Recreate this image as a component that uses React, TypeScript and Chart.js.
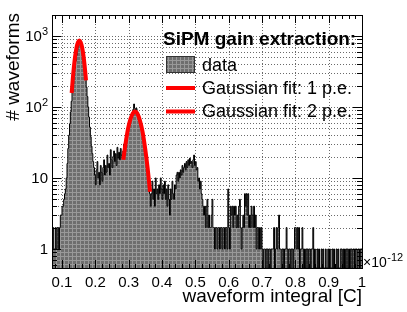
import React, { useEffect, useRef } from "react";
import { Chart, registerables } from "chart.js";

Chart.register(...registerables);

// ---------------- data ----------------
const BIN_START = 0.07; // ×10^-12 C
const BIN_WIDTH = 0.0025;
const COUNTS = [
  // 0.070 - 0.0975
  2, 2, 1, 1, 2, 1, 2, 2, 1, 2, 3, 3,
  // 0.100
  4, 4, 5, 6, 7, 10, 16, 26, 40, 58, 85, 120, 160, 210, 280, 350, 440, 530, 640, 720,
  // 0.150
  800, 850, 830, 780, 690, 600, 470, 370, 260, 190, 140, 100, 72, 52, 38, 28, 22, 17, 14, 11,
  // 0.200
  8, 13, 17, 10, 12, 8, 15, 12, 9, 14, 18, 11, 15, 12, 21, 14, 16, 11, 25, 18,
  // 0.250
  14, 20, 24, 17, 22, 15, 27, 19, 23, 18, 26, 21, 19, 24, 30, 27, 36, 40, 46, 52,
  // 0.300
  58, 64, 70, 75, 84, 92, 110, 96, 88, 95, 86, 80, 72, 66, 55, 48, 42, 35, 30, 24,
  // 0.350
  20, 16, 13, 10, 8, 6, 4, 6, 9, 5, 7, 4, 10, 6, 7, 5, 8, 6, 10, 7,
  // 0.400
  5, 8, 6, 9, 5, 7, 4, 8, 5, 3, 7, 5, 9, 6, 5, 8, 7, 11, 12, 9,
  // 0.450
  12, 10, 13, 11, 15, 12, 14, 16, 13, 17, 14, 18, 15, 19, 16, 17, 14, 18, 21, 15,
  // 0.500
  17, 13, 14, 9, 10, 7, 9, 6, 5, 4, 3, 4, 2, 4, 5, 2, 3, 2, 2, 3,
  // 0.550
  5, 2, 2, 1, 2, 2, 1, 2, 2, 1, 2, 2, 1, 2, 2, 1, 2, 2, 1, 7,
  // 0.600
  2, 1, 4, 3, 4, 2, 4, 3, 4, 2, 3, 2, 4, 5, 2, 1, 2, 3, 2, 6,
  // 0.650
  4, 6, 3, 6, 2, 3, 2, 4, 3, 2, 4, 2, 3, 1, 2, 2, 1, 2, 1, 2,
  // 0.700
  1, 0, 1, 1, 0, 1, 1, 0, 1, 1, 0, 1, 1, 1, 2, 0, 1, 2, 1, 2,
  // 0.750
  3, 1, 1, 0, 1, 1, 0, 1, 1, 2, 1, 0, 1, 1, 0, 1, 1, 0, 1, 2,
  // 0.800
  2, 1, 2, 1, 2, 0, 1, 1, 2, 1, 0, 1, 0, 1, 1, 0, 1, 1, 0, 1,
  // 0.850
  1, 2, 0, 1, 0, 0, 1, 0, 1, 0, 0, 1, 0, 1, 0, 0, 1, 0, 0, 1,
  // 0.900
  0, 1, 0, 0, 1, 0, 1, 0, 0, 1, 0, 1, 0, 0, 1, 1, 0, 1, 0, 1,
  // 0.950
  0, 1, 1, 0, 1, 0, 1, 1, 0, 1, 1, 0, 1, 1, 0, 1, 1, 0, 1, 1,
];

const FIT1_X = [0.129, 0.134, 0.139, 0.144, 0.148, 0.152, 0.156, 0.160, 0.164, 0.168, 0.172];
const FIT1_Y = [157, 303, 499, 699, 816, 859, 816, 699, 541, 377, 237];
const FIT2_X = [0.284, 0.290, 0.298, 0.306, 0.313, 0.319, 0.326, 0.334, 0.342, 0.350, 0.357, 0.364];
const FIT2_Y = [18, 29, 49, 69, 82, 86, 81, 64, 44, 25, 13.6, 6.4];

const X_MIN = 0.07;
const X_MAX = 1.0;
const Y_MIN = 0.54;
const Y_MAX = 1970;

const X_MAJOR = [0.1, 0.2, 0.3, 0.4, 0.5, 0.6, 0.7, 0.8, 0.9, 1.0];
const X_LABELS = ["0.1", "0.2", "0.3", "0.4", "0.5", "0.6", "0.7", "0.8", "0.9", "1"];
const X_MINOR = [
  0.08, 0.12, 0.14, 0.16, 0.18, 0.22, 0.24, 0.26, 0.28, 0.32, 0.34, 0.36, 0.38,
  0.42, 0.44, 0.46, 0.48, 0.52, 0.54, 0.56, 0.58, 0.62, 0.64, 0.66, 0.68,
  0.72, 0.74, 0.76, 0.78, 0.82, 0.84, 0.86, 0.88, 0.92, 0.94, 0.96, 0.98,
];
const Y_MAJOR = [1, 10, 100, 1000];
const Y_LABEL_BASE = ["1", "10", "10", "10"];
const Y_LABEL_EXP = ["", "", "2", "3"];
const Y_MINOR = [
  0.6, 0.7, 0.8, 0.9,
  2, 3, 4, 5, 6, 7, 8, 9,
  20, 30, 40, 50, 60, 70, 80, 90,
  200, 300, 400, 500, 600, 700, 800, 900,
];
const Y_GRID = [
  1, 2, 3, 4, 5, 6, 7, 8, 9,
  10, 20, 30, 40, 50, 60, 70, 80, 90,
  100, 200, 300, 400, 500, 600, 700, 800, 900, 1000,
];

const X_TITLE = "waveform integral [C]";
const Y_TITLE = "# waveforms";
const X_EXP_BASE = "\u00d710";
const X_EXP = "-12";
const LEGEND_TITLE = "SiPM gain extraction:";
const LEGEND_LABELS = ["data", "Gaussian fit: 1 p.e.", "Gaussian fit: 2 p.e."];

const FONT = '"Liberation Sans", Arial, Helvetica, sans-serif';

function makePattern(ctx: CanvasRenderingContext2D): CanvasPattern | string {
  const c = document.createElement("canvas");
  c.width = 4;
  c.height = 4;
  const g = c.getContext("2d");
  if (!g) return "#808080";
  g.fillStyle = "#6e6e6e";
  g.fillRect(0, 0, 4, 4);
  g.fillStyle = "#999999";
  g.fillRect(0, 0, 4, 1);
  g.fillRect(0, 0, 1, 4);
  return ctx.createPattern(c, "repeat") || "#808080";
}

export default function App() {
  const ref = useRef<HTMLCanvasElement>(null);

  useEffect(() => {
    const canvas = ref.current;
    if (!canvas) return;
    const mainCtx = canvas.getContext("2d")!;
    const pattern = makePattern(mainCtx);

    const histData = COUNTS.map((c, i) => ({
      x: BIN_START + i * BIN_WIDTH,
      y: c > 0 ? c : Y_MIN,
    }));
    const last = COUNTS[COUNTS.length - 1];
    histData.push({ x: BIN_START + COUNTS.length * BIN_WIDTH, y: last > 0 ? last : Y_MIN });

    const rootPlugin = {
      id: "rootStyle",
      beforeDatasetsDraw(chart: any) {
        const { ctx, chartArea: a, scales } = chart;
        const xs = scales.x;
        const ys = scales.y;
        ctx.save();
        ctx.strokeStyle = "#6a6a6a";
        ctx.lineWidth = 1;
        ctx.setLineDash([1, 2]);
        ctx.beginPath();
        for (const v of X_MAJOR) {
          const px = Math.round(xs.getPixelForValue(v)) + 0.5;
          if (px <= a.left + 1 || px >= a.right - 1) continue;
          ctx.moveTo(px, a.top);
          ctx.lineTo(px, a.bottom);
        }
        for (const v of Y_GRID) {
          const py = Math.round(ys.getPixelForValue(v)) + 0.5;
          if (py <= a.top + 1 || py >= a.bottom - 1) continue;
          ctx.moveTo(a.left, py);
          ctx.lineTo(a.right, py);
        }
        ctx.stroke();
        ctx.restore();
      },
      afterDraw(chart: any) {
        const { ctx, chartArea: a, scales } = chart;
        const xs = scales.x;
        const ys = scales.y;
        ctx.save();
        ctx.setLineDash([]);
        ctx.strokeStyle = "#000";
        ctx.lineWidth = 1;

        // frame
        ctx.strokeRect(a.left + 0.5, a.top + 0.5, a.right - a.left, a.bottom - a.top);

        // ticks
        ctx.beginPath();
        const xTick = (v: number, len: number) => {
          const px = Math.round(xs.getPixelForValue(v)) + 0.5;
          ctx.moveTo(px, a.bottom);
          ctx.lineTo(px, a.bottom - len);
          ctx.moveTo(px, a.top);
          ctx.lineTo(px, a.top + len);
        };
        const yTick = (v: number, len: number) => {
          const py = Math.round(ys.getPixelForValue(v)) + 0.5;
          ctx.moveTo(a.left, py);
          ctx.lineTo(a.left + len, py);
          ctx.moveTo(a.right, py);
          ctx.lineTo(a.right - len, py);
        };
        X_MAJOR.forEach((v) => xTick(v, 8));
        X_MINOR.forEach((v) => xTick(v, 4));
        Y_MAJOR.forEach((v) => yTick(v, 9));
        Y_MINOR.forEach((v) => yTick(v, 5));
        ctx.stroke();

        // x tick labels
        ctx.fillStyle = "#000";
        ctx.font = `15px ${FONT}`;
        ctx.textAlign = "center";
        ctx.textBaseline = "alphabetic";
        X_MAJOR.forEach((v, i) => {
          ctx.fillText(X_LABELS[i], xs.getPixelForValue(v), 287);
        });

        // y tick labels
        Y_MAJOR.forEach((v, i) => {
          const py = ys.getPixelForValue(v);
          const right = 48;
          const base = Y_LABEL_BASE[i];
          const exp = Y_LABEL_EXP[i];
          let expW = 0;
          if (exp) {
            ctx.font = `11px ${FONT}`;
            expW = ctx.measureText(exp).width;
            ctx.textAlign = "left";
            ctx.fillText(exp, right - expW, py - 0.5);
          }
          ctx.font = `15px ${FONT}`;
          ctx.textAlign = "right";
          ctx.fillText(base, right - expW, py + 5.5);
        });

        // x exponent
        ctx.textAlign = "left";
        ctx.font = `14px ${FONT}`;
        ctx.fillText(X_EXP_BASE, 363, 266.5);
        const bw = ctx.measureText(X_EXP_BASE).width;
        ctx.font = `11px ${FONT}`;
        ctx.fillText(X_EXP, 363 + bw + 0.5, 261);

        // axis titles
        ctx.font = `19px ${FONT}`;
        ctx.textAlign = "right";
        ctx.fillText(X_TITLE, a.right, 302);

        ctx.save();
        ctx.translate(19, 13);
        ctx.rotate(-Math.PI / 2);
        ctx.textAlign = "right";
        ctx.fillText(Y_TITLE, 0, 0);
        ctx.restore();

        // legend
        ctx.textAlign = "left";
        ctx.font = `bold 19px ${FONT}`;
        ctx.fillText(LEGEND_TITLE, 163, 45);

        ctx.font = `18px ${FONT}`;
        ctx.fillStyle = pattern as any;
        ctx.fillRect(166, 56, 29, 17);
        ctx.strokeStyle = "#333";
        ctx.lineWidth = 1;
        ctx.strokeRect(166.5, 56.5, 28, 16);
        ctx.fillStyle = "#000";
        ctx.fillText(LEGEND_LABELS[0], 202, 70.5);

        ctx.strokeStyle = "#ff0000";
        ctx.lineWidth = 4;
        ctx.beginPath();
        ctx.moveTo(166, 88);
        ctx.lineTo(195, 88);
        ctx.moveTo(166, 111.5);
        ctx.lineTo(195, 111.5);
        ctx.stroke();
        ctx.fillText(LEGEND_LABELS[1], 202, 93.5);
        ctx.fillText(LEGEND_LABELS[2], 202, 116.5);

        ctx.restore();
      },
    };

    const chart = new Chart(canvas, {
      type: "line",
      data: {
        datasets: [
          {
            label: LEGEND_LABELS[1],
            data: FIT1_X.map((x, i) => ({ x, y: FIT1_Y[i] })),
            borderColor: "#ff0000",
            borderWidth: 4,
            pointRadius: 0,
            cubicInterpolationMode: "monotone",
            fill: false,
            order: 0,
          },
          {
            label: LEGEND_LABELS[2],
            data: FIT2_X.map((x, i) => ({ x, y: FIT2_Y[i] })),
            borderColor: "#ff0000",
            borderWidth: 4,
            pointRadius: 0,
            cubicInterpolationMode: "monotone",
            fill: false,
            order: 0,
          },
          {
            label: LEGEND_LABELS[0],
            data: histData,
            stepped: true,
            borderColor: "#000000",
            borderWidth: 1,
            backgroundColor: pattern as any,
            fill: "start",
            pointRadius: 0,
            order: 1,
          },
        ],
      } as any,
      options: {
        responsive: false,
        animation: false,
        devicePixelRatio: 1,
        events: [],
        layout: { padding: { left: 52, right: 45, top: 15, bottom: 44 } },
        scales: {
          x: { type: "linear", min: X_MIN, max: X_MAX, display: false },
          y: { type: "logarithmic", min: Y_MIN, max: Y_MAX, display: false },
        },
        plugins: { legend: { display: false }, tooltip: { enabled: false } },
      } as any,
      plugins: [rootPlugin],
    });

    return () => chart.destroy();
  }, []);

  return (
    <div style={{ position: "fixed", left: 0, top: 0, width: 407, height: 312, background: "#fff" }}>
      <canvas ref={ref} width={407} height={312} style={{ display: "block", width: 407, height: 312 }} />
    </div>
  );
}
